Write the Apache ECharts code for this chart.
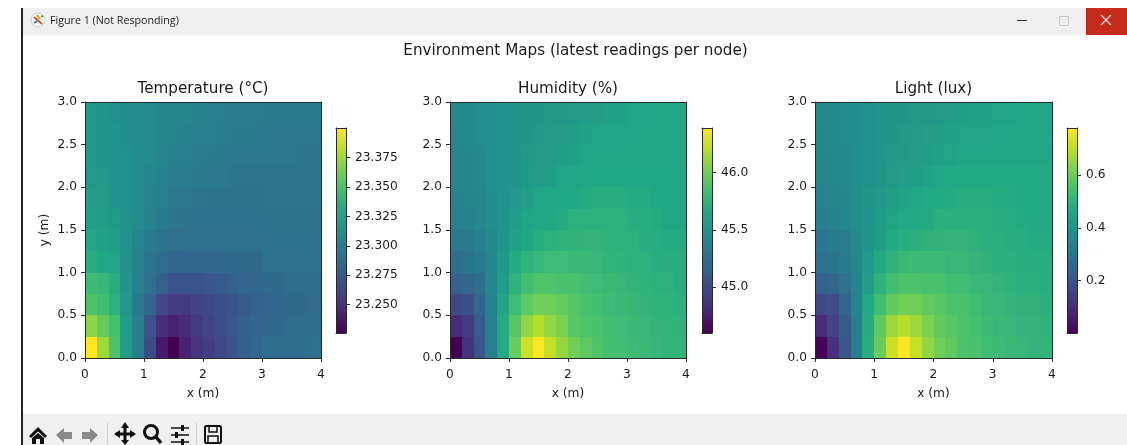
<!DOCTYPE html>
<html><head><meta charset="utf-8">
<style>html,body{margin:0;padding:0;background:#fff}#c{width:1127px;height:445px}</style>
<script src="https://cdn.jsdelivr.net/npm/echarts@6/dist/echarts.min.js"></script>
</head><body><div id="c"></div>
<script>
// rows run from y = 0 (bottom) upward, columns from x = 0 rightward
const tempRows = [
[23.400,23.374,23.351,23.323,23.299,23.266,23.238,23.226,23.243,23.252,23.257,23.264,23.271,23.278,23.283,23.287,23.287,23.287,23.287,23.289],
[23.370,23.358,23.348,23.322,23.299,23.271,23.249,23.243,23.247,23.256,23.261,23.268,23.273,23.278,23.282,23.283,23.285,23.287,23.287,23.287],
[23.351,23.346,23.336,23.318,23.297,23.282,23.264,23.256,23.256,23.261,23.264,23.268,23.271,23.275,23.280,23.282,23.283,23.285,23.285,23.287],
[23.344,23.341,23.334,23.316,23.301,23.289,23.280,23.271,23.271,23.271,23.273,23.275,23.278,23.282,23.283,23.285,23.285,23.287,23.287,23.287],
[23.334,23.330,23.327,23.313,23.303,23.294,23.287,23.282,23.284,23.284,23.284,23.284,23.285,23.285,23.285,23.289,23.289,23.289,23.289,23.291],
[23.329,23.325,23.323,23.313,23.304,23.297,23.292,23.290,23.289,23.289,23.289,23.289,23.289,23.289,23.289,23.291,23.291,23.291,23.291,23.292],
[23.325,23.322,23.320,23.313,23.308,23.303,23.297,23.294,23.292,23.291,23.291,23.291,23.291,23.291,23.291,23.292,23.292,23.292,23.292,23.292],
[23.322,23.320,23.316,23.313,23.310,23.304,23.301,23.296,23.296,23.294,23.294,23.292,23.292,23.292,23.292,23.294,23.294,23.294,23.294,23.294],
[23.320,23.318,23.316,23.313,23.310,23.306,23.303,23.299,23.299,23.298,23.296,23.296,23.294,23.294,23.294,23.294,23.294,23.294,23.294,23.294],
[23.318,23.316,23.315,23.313,23.310,23.308,23.304,23.301,23.301,23.299,23.298,23.298,23.296,23.296,23.296,23.296,23.296,23.296,23.294,23.294],
[23.318,23.316,23.315,23.311,23.310,23.308,23.306,23.304,23.303,23.301,23.301,23.299,23.298,23.298,23.298,23.296,23.296,23.296,23.296,23.296],
[23.318,23.316,23.313,23.311,23.310,23.308,23.306,23.304,23.305,23.303,23.301,23.301,23.299,23.299,23.299,23.298,23.298,23.298,23.298,23.298]
];
const humRows = [
[44.60,44.85,45.08,45.37,45.69,45.98,46.26,46.39,46.23,46.10,46.00,45.94,45.89,45.85,45.84,45.82,45.80,45.78,45.76,45.76],
[44.83,44.90,45.12,45.37,45.69,45.92,46.10,46.19,46.10,46.03,45.92,45.89,45.87,45.84,45.82,45.80,45.78,45.76,45.76,45.75],
[44.99,45.03,45.19,45.39,45.66,45.82,45.94,46.01,46.00,45.96,45.91,45.87,45.85,45.82,45.80,45.78,45.76,45.75,45.75,45.73],
[45.15,45.19,45.26,45.41,45.58,45.75,45.84,45.89,45.89,45.87,45.87,45.84,45.82,45.80,45.78,45.76,45.75,45.73,45.73,45.71],
[45.26,45.28,45.33,45.42,45.55,45.69,45.75,45.78,45.82,45.82,45.80,45.80,45.78,45.76,45.75,45.73,45.73,45.71,45.71,45.71],
[45.32,45.33,45.37,45.44,45.53,45.62,45.67,45.71,45.73,45.75,45.75,45.76,45.76,45.75,45.73,45.73,45.71,45.71,45.69,45.69],
[45.37,45.39,45.42,45.46,45.51,45.58,45.64,45.67,45.67,45.69,45.73,45.73,45.73,45.73,45.73,45.71,45.71,45.69,45.67,45.67],
[45.39,45.41,45.42,45.46,45.51,45.55,45.60,45.64,45.66,45.67,45.67,45.69,45.71,45.71,45.71,45.69,45.69,45.67,45.67,45.67],
[45.41,45.42,45.44,45.48,45.50,45.53,45.57,45.58,45.60,45.64,45.66,45.67,45.67,45.67,45.67,45.67,45.67,45.67,45.67,45.67],
[45.42,45.42,45.44,45.48,45.50,45.51,45.55,45.57,45.58,45.60,45.62,45.64,45.66,45.66,45.66,45.66,45.66,45.66,45.66,45.66],
[45.42,45.44,45.46,45.48,45.50,45.51,45.53,45.55,45.57,45.58,45.60,45.62,45.64,45.64,45.64,45.66,45.66,45.66,45.66,45.66],
[45.44,45.44,45.46,45.48,45.50,45.51,45.53,45.53,45.55,45.55,45.57,45.58,45.60,45.62,45.62,45.64,45.64,45.66,45.66,45.66]
];
const lightRows = [
[0.005,0.11,0.21,0.335,0.485,0.60,0.72,0.78,0.71,0.65,0.61,0.59,0.56,0.555,0.54,0.53,0.52,0.515,0.505,0.505],
[0.10,0.15,0.225,0.335,0.475,0.585,0.665,0.695,0.665,0.625,0.59,0.575,0.56,0.545,0.53,0.52,0.515,0.505,0.505,0.50],
[0.17,0.185,0.255,0.345,0.47,0.54,0.59,0.61,0.61,0.59,0.575,0.56,0.555,0.54,0.52,0.515,0.505,0.50,0.50,0.49],
[0.24,0.255,0.29,0.35,0.435,0.50,0.54,0.56,0.56,0.555,0.555,0.54,0.54,0.52,0.515,0.505,0.50,0.49,0.49,0.485],
[0.29,0.295,0.32,0.36,0.415,0.47,0.50,0.52,0.53,0.53,0.53,0.52,0.515,0.505,0.50,0.49,0.49,0.485,0.485,0.485],
[0.31,0.32,0.335,0.365,0.405,0.435,0.47,0.485,0.49,0.50,0.50,0.505,0.505,0.50,0.49,0.49,0.485,0.485,0.475,0.475],
[0.335,0.345,0.36,0.375,0.40,0.43,0.45,0.47,0.47,0.475,0.49,0.49,0.49,0.49,0.49,0.485,0.485,0.475,0.47,0.47],
[0.345,0.35,0.36,0.375,0.40,0.415,0.435,0.45,0.46,0.47,0.47,0.475,0.485,0.485,0.485,0.475,0.475,0.47,0.47,0.47],
[0.35,0.36,0.365,0.38,0.39,0.405,0.42,0.43,0.435,0.45,0.46,0.47,0.47,0.47,0.47,0.47,0.47,0.47,0.47,0.47],
[0.36,0.36,0.365,0.38,0.39,0.40,0.415,0.42,0.43,0.435,0.445,0.45,0.46,0.46,0.46,0.46,0.46,0.46,0.46,0.46],
[0.36,0.365,0.375,0.38,0.39,0.40,0.405,0.415,0.42,0.43,0.435,0.445,0.45,0.45,0.45,0.46,0.46,0.46,0.46,0.46],
[0.365,0.365,0.375,0.38,0.39,0.40,0.405,0.405,0.415,0.415,0.42,0.43,0.435,0.445,0.445,0.45,0.45,0.46,0.46,0.46]
];
const panelTitles = ['Temperature (°C)','Humidity (%)','Light (lux)'];
const figureTitle = 'Environment Maps (latest readings per node)';
const windowTitle = 'Figure 1 (Not Responding)';
const xTickStep = 1, yTickStep = 0.5;
const cellW = 0.2, cellH = 0.25;
const colorRanges = [[23.226,23.400],[44.60,46.39],[0,0.78]];
const colorTicks = [[23.25,23.275,23.3,23.325,23.35,23.375],[45,45.5,46],[0.2,0.4,0.6]];
const colorDigits = [3,1,1];
const viridis = ['#440154','#482475','#414487','#355f8d','#2a788e','#21918c','#22a884','#44bf70','#7ad151','#bddf26','#fde725'];

const FONT='"DejaVu Sans"', INK='#1a1a1a', EDGE='#2a2a2a';
const panelLeft=[85,450,815], panelW=[236,236,237], barLeft=[336,702,1067];
const allRows=[tempRows,humRows,lightRows];
const LAB=12.2, HEAD=15.2;

const grids=[],xAxes=[],yAxes=[],series=[],visualMaps=[];
function addAxes(g,xo,yo){
  const line={show:true,onZero:false,lineStyle:{color:EDGE,width:1}};
  const x=xAxes.length;
  xAxes.push(Object.assign({gridIndex:g,position:'bottom',z:5,axisLine:line},xo));
  xAxes.push({gridIndex:g,position:'top',type:'value',min:xo.min,max:xo.max,z:5,axisLine:line,axisTick:{show:false},axisLabel:{show:false},splitLine:{show:false}});
  const y=yAxes.length;
  yAxes.push(Object.assign({gridIndex:g,z:5,axisLine:line},yo));
  yAxes.push({gridIndex:g,position:yo.position==='right'?'left':'right',type:'value',min:yo.min,max:yo.max,z:5,axisLine:line,axisTick:{show:false},axisLabel:{show:false},splitLine:{show:false}});
  return [x,y];
}
const tickStyle={show:true,length:4,lineStyle:{color:EDGE,width:1}};
const lab={color:INK,fontFamily:FONT,fontSize:LAB,margin:9};
panelTitles.forEach((t,p)=>{
  let g=grids.length;
  grids.push({left:panelLeft[p],top:102,width:panelW[p],height:256,show:false,containLabel:false});
  let [xi,yi]=addAxes(g,
    {type:'value',min:0,max:4,interval:xTickStep,name:'x (m)',nameLocation:'middle',nameGap:30,
     nameTextStyle:{color:INK,fontFamily:FONT,fontSize:LAB},axisTick:tickStyle,axisLabel:Object.assign({},lab,{margin:11}),splitLine:{show:false}},
    {type:'value',position:'left',min:0,max:3,interval:yTickStep,name:p===0?'y (m)':'',nameLocation:'middle',nameGap:34,
     nameTextStyle:{color:INK,fontFamily:FONT,fontSize:LAB},axisTick:tickStyle,
     axisLabel:Object.assign({},lab,{margin:8,padding:[5,0,0,0],formatter:v=>v.toFixed(1)}),splitLine:{show:false}});
  const data=[];
  allRows[p].forEach((row,r)=>row.forEach((v,c)=>data.push([c*cellW,r*cellH,v])));
  const sIdx=series.length;
  series.push({type:'custom',name:t,xAxisIndex:xi,yAxisIndex:yi,coordinateSystem:'cartesian2d',silent:true,animation:false,z:2,
    encode:{x:0,y:1},data,
    renderItem:(params,api)=>{
      const a=api.coord([api.value(0),api.value(1)]);
      const b=api.coord([api.value(0)+cellW,api.value(1)+cellH]);
      const x0=Math.round(a[0]),x1=Math.round(b[0]),y0=Math.round(b[1]),y1=Math.round(a[1]);
      return {type:'rect',shape:{x:x0,y:y0,width:x1-x0,height:y1-y0},style:{fill:api.visual('color')}};
    }});
  visualMaps.push({show:false,type:'continuous',seriesIndex:sIdx,dimension:2,min:colorRanges[p][0],max:colorRanges[p][1],inRange:{color:viridis}});
  g=grids.length;
  grids.push({left:barLeft[p],top:128,width:10,height:205,show:false});
  const digits=colorDigits[p];
  [xi,yi]=addAxes(g,
    {type:'value',min:0,max:1,axisTick:{show:false},axisLabel:{show:false},splitLine:{show:false}},
    {type:'value',position:'right',min:colorRanges[p][0],max:colorRanges[p][1],
     axisTick:Object.assign({},tickStyle,{customValues:colorTicks[p]}),
     axisLabel:Object.assign({},lab,{padding:[4,0,0,0],customValues:colorTicks[p],formatter:v=>Number(v).toFixed(digits)}),splitLine:{show:false}});
  series.push({type:'custom',name:t+' colour bar',xAxisIndex:xi,yAxisIndex:yi,coordinateSystem:'cartesian2d',silent:true,animation:false,z:2,
    encode:{x:[0,1],y:[2,3]},data:[[0,1,colorRanges[p][0],colorRanges[p][1]]],
    renderItem:(params,api)=>{
      const a=api.coord([api.value(0),api.value(2)]);
      const b=api.coord([api.value(1),api.value(3)]);
      return {type:'rect',shape:{x:a[0],y:b[1],width:b[0]-a[0],height:a[1]-b[1]},
        style:{fill:new echarts.graphic.LinearGradient(0,1,0,0,viridis.map((c,i)=>({offset:i/(viridis.length-1),color:c})))}};
    }});
});

const titles=[{text:figureTitle,left:575.5,top:44,padding:0,textAlign:'center',textStyle:{fontFamily:FONT,fontSize:HEAD,fontWeight:'normal',color:INK}}];
panelTitles.forEach((t,p)=>titles.push({text:t,left:panelLeft[p]+panelW[p]/2,top:82,padding:0,textAlign:'center',textStyle:{fontFamily:FONT,fontSize:HEAD,fontWeight:'normal',color:INK}}));

const BAR='#f0f0f0', DK='#111', GR='#8a8a8a';
const rect=(x,y,w,h,fill,z)=>({type:'rect',shape:{x,y,width:w,height:h},style:{fill},z:z||1,silent:true});
const poly=(points,fill)=>({type:'polygon',shape:{points},style:{fill},z:3,silent:true});
const seg=(x1,y1,x2,y2,stroke,w)=>({type:'line',shape:{x1,y1,x2,y2},style:{stroke,lineWidth:w||2},z:3,silent:true});
const arrow=(x,dir,fill)=>poly([[x,435],[x+dir*8,428],[x+dir*8,432],[x+dir*16,432],[x+dir*16,439],[x+dir*8,439],[x+dir*8,443]],fill);
const chrome=[
  rect(22,8,1064,27.5,BAR),
  rect(1086,8,41,27,'#c42b1c'),
  rect(21,8,2,437,'#222',2),
  rect(23,414,1104,31,BAR),
  {type:'text',style:{x:50,y:21,text:windowTitle,fill:'#222',font:'10.7px "Open Sans"',verticalAlign:'middle',textVerticalAlign:'middle'},z:3,silent:true},
  {type:'circle',shape:{cx:38,cy:20,r:7},style:{fill:'#f7f7f7',stroke:'#cfcfcf',lineWidth:1},z:3,silent:true},
  seg(34,17,42,24,'#d9531e',2), seg(37,15,40,19,'#e59a2c',2), seg(34,23,37,21,'#3d7fb5',2), seg(41,16,43,17,'#5a9e3a',2),
  seg(1017,20.5,1027,20.5,'#333',1),
  {type:'rect',shape:{x:1059.5,y:16.5,width:9,height:9},style:{fill:'none',stroke:'#c8c8c8',lineWidth:1},z:3,silent:true},
  seg(1101,15,1111,25,'#f4dcd9',1.2), seg(1111,15,1101,25,'#f4dcd9',1.2),
  poly([[38,427],[47,436],[45,438],[38,431.5],[31,438],[29,436]],DK),
  poly([[32,438],[38,433],[44,438],[44,444],[40,444],[40,439],[36,439],[36,444],[32,444]],DK),
  arrow(56,1,GR), arrow(98,-1,GR),
  rect(107,423,1,21,'#cfcfcf',3),
  seg(125,425,125,443,DK,3), seg(116,434,134,434,DK,3),
  poly([[125,422],[121,428],[129,428]],DK), poly([[125,445],[121,440],[129,440]],DK),
  poly([[114,434],[120,430],[120,438]],DK), poly([[136,434],[130,430],[130,438]],DK),
  {type:'circle',shape:{cx:151,cy:432,r:6.5},style:{fill:'none',stroke:DK,lineWidth:3},z:3,silent:true},
  seg(156,437,161,443,DK,3.5),
  seg(171,428,189,428,DK,1.5), seg(171,435,189,435,DK,1.5), seg(171,442,189,442,DK,1.5),
  rect(181,425,3,6,DK,3), rect(175,432,3,6,DK,3), rect(181,439,3,6,DK,3),
  rect(196,423,1,21,'#cfcfcf',3),
  {type:'rect',shape:{x:205,y:426,width:16,height:17,r:1.5},style:{fill:'none',stroke:DK,lineWidth:2},z:3,silent:true},
  {type:'rect',shape:{x:209,y:426,width:8,height:6},style:{fill:'none',stroke:DK,lineWidth:1.5},z:3,silent:true},
  {type:'rect',shape:{x:208,y:436,width:10,height:7},style:{fill:'none',stroke:DK,lineWidth:1.5},z:3,silent:true}
];

const chart=echarts.init(document.getElementById('c'),null,{renderer:'canvas'});
chart.setOption({
  backgroundColor:'#fff',animation:false,title:titles,grid:grids,xAxis:xAxes,yAxis:yAxes,
  visualMap:visualMaps,series,graphic:{elements:chrome}
});
</script></body></html>
